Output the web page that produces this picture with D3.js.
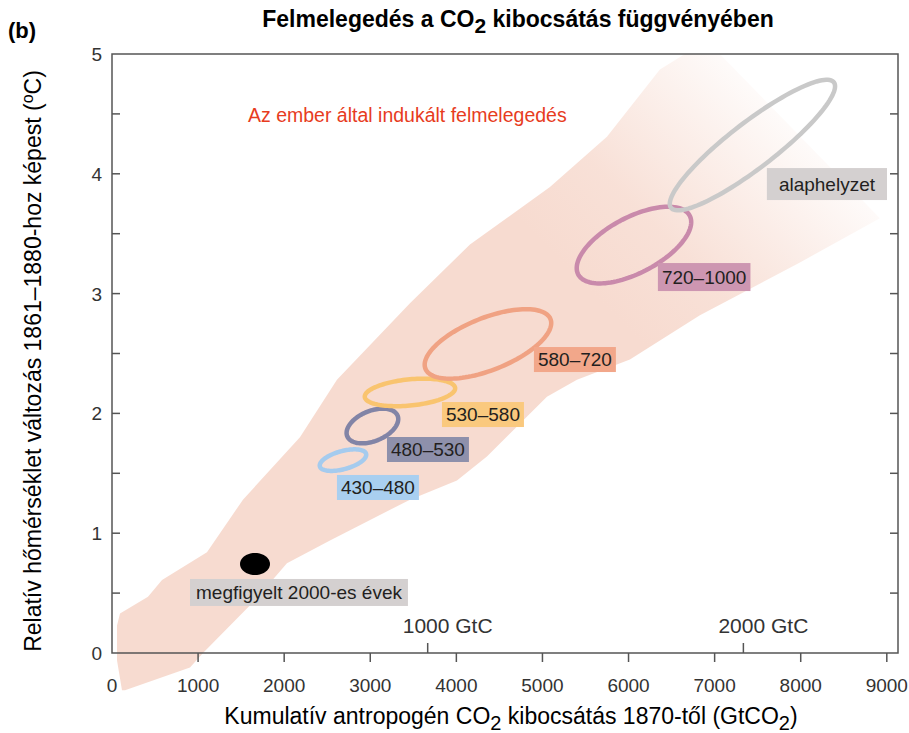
<!DOCTYPE html>
<meta charset="utf-8">
<style>
  body { margin: 0; background: #fff; }
  svg { font-family: "Liberation Sans", Arial, sans-serif; }
  .tick-label { font-size: 19px; fill: #333; }
  .box-label { fill: #231f20; }
</style>

<svg id="chart" width="909" height="733"></svg>

<script src="https://cdn.jsdelivr.net/npm/d3@7/dist/d3.min.js"></script>
<script>

// ----------------------------------------------------------------------------
//                               DATA
// ----------------------------------------------------------------------------
var xTicks = [0, 1000, 2000, 3000, 4000, 5000, 6000, 7000, 8000, 9000];
var yTicks = [0, 1, 2, 3, 4, 5];
var yMinor = [0.5, 1, 1.5, 2, 2.5, 3, 3.5, 4, 4.5];
var gtcMarks = [1000, 2000];          // GtC, 1 GtC = 3.667 GtCO2

// Range of model results (upper edge left to right, lower edge right to left)
var bandTop = [[116, -0.31], [58, -0.06], [58, 0.23], [93, 0.33], [418, 0.47],
               [581, 0.61], [1103, 0.84], [1521, 1.28], [2183, 1.80],
               [2613, 2.28], [3461, 2.92], [4158, 3.41], [5087, 3.89],
               [5749, 4.31], [6364, 4.87], [6655, 5.0], [7061, 5.0]];
var bandBottom = [[8920, 3.63], [7991, 3.26], [6829, 2.82], [6016, 2.45],
                  [5401, 2.28], [5052, 2.14], [4355, 1.64], [4007, 1.44],
                  [3461, 1.28], [2532, 0.94], [2032, 0.75], [1661, 0.44],
                  [1057, 0.0], [906, -0.12], [151, -0.31]];

// Scenario ellipses: centre, half spread in x and y, correlation
var scenarios = ["430–480", "480–530", "530–580", "580–720", "720–1000", "alaphelyzet"];
var scenX   = [2683, 3025, 3461, 4367, 6063, 7439];
var scenY   = [1.61, 1.895, 2.175, 2.58, 3.405, 4.24];
var scenDX  = [270, 300, 525, 735, 665, 960];
var scenDY  = [0.09, 0.145, 0.115, 0.29, 0.32, 0.545];
var scenRho = [0.5, 0.4, 0.3, 0.6, 0.6, 0.9];
var scenLabelX = [2613, 3194, 3833, 4901, 6341, 7607];
var scenLabelY = [1.486, 1.803, 2.095, 2.554, 3.255, 4.048];
var scenStroke = ["#a5cbee", "#8284a6", "#f9c46f", "#f0a283", "#c98aab", "#c9c9c9"];
var scenFill   = ["#a9cff0", "#8e90ab", "#fac97e", "#f2a78a", "#cd96b1", "#d4d0d0"];

// Observed 2000s
var obsName = "megfigyelt 2000-es évek";
var obsX = 1661, obsY = 0.743, obsDX = 174, obsDY = 0.092;
var obsLabelX = 906, obsLabelY = 0.618;

// ----------------------------------------------------------------------------
//                               CHART
// ----------------------------------------------------------------------------
var svg = d3.select("#chart");
var margin = {left: 112, top: 54, right: 11, bottom: 80};
var W = +svg.attr("width"), H = +svg.attr("height");

var x = d3.scaleLinear().domain([0, 9130]).range([margin.left, W - margin.right]);
var y = d3.scaleLinear().domain([0, 5]).range([H - margin.bottom, margin.top]);

var line = d3.line()
    .x(function(d) { return x(d[0]); })
    .y(function(d) { return y(d[1]); })
    .curve(d3.curveLinearClosed);

// ellipse in data space
function ellipse(cx, cy, dx, dy, rho) {
  var pts = [];
  for (var i = 0; i < 120; i++) {
    var t = i / 120 * 2 * Math.PI;
    pts.push([cx + dx * Math.cos(t),
              cy + dy * (rho * Math.cos(t) + Math.sqrt(1 - rho * rho) * Math.sin(t))]);
  }
  return pts;
}

// Fading band
var defs = svg.append("defs");
var grad = defs.append("linearGradient")
    .attr("id", "fade")
    .attr("gradientUnits", "userSpaceOnUse")
    .attr("x1", x(5650)).attr("y1", y(2.95))
    .attr("x2", x(7820)).attr("y2", y(4.5));
grad.append("stop").attr("offset", 0).attr("stop-color", "#f7dbd0").attr("stop-opacity", 1);
grad.append("stop").attr("offset", 0.35).attr("stop-color", "#f7dbd0").attr("stop-opacity", 0.85);
grad.append("stop").attr("offset", 1).attr("stop-color", "#f7dbd0").attr("stop-opacity", 0.1);

svg.append("path")
    .attr("d", line(bandTop.concat(bandBottom)))
    .attr("fill", "url(#fade)");

// Frame
svg.append("rect")
    .attr("x", x(0)).attr("y", y(5))
    .attr("width", x.range()[1] - x(0)).attr("height", y(0) - y(5))
    .attr("fill", "none").attr("stroke", "#555").attr("stroke-width", 1.5);

// y ticks, inside on both sides
var tickG = svg.append("g").attr("stroke", "#555").attr("stroke-width", 1.5);
tickG.selectAll(".yl").data(yMinor).enter().append("line")
    .attr("x1", x(0)).attr("x2", x(0) + 8)
    .attr("y1", function(d) { return y(d); }).attr("y2", function(d) { return y(d); });
tickG.selectAll(".yr").data(yMinor).enter().append("line")
    .attr("x1", x.range()[1]).attr("x2", x.range()[1] - 8)
    .attr("y1", function(d) { return y(d); }).attr("y2", function(d) { return y(d); });
// x ticks, outside
tickG.selectAll(".xb").data(xTicks.slice(1)).enter().append("line")
    .attr("x1", function(d) { return x(d); }).attr("x2", function(d) { return x(d); })
    .attr("y1", y(0)).attr("y2", y(0) + 9);
// GtC ticks, inside
tickG.selectAll(".gtc").data(gtcMarks).enter().append("line")
    .attr("x1", function(d) { return x(d * 3.667); }).attr("x2", function(d) { return x(d * 3.667); })
    .attr("y1", y(0)).attr("y2", y(0) - 10);

svg.selectAll(".gtcl").data(gtcMarks).enter().append("text")
    .attr("x", function(d) { return x(d * 3.667) + 20; })
    .attr("y", y(0) - 20)
    .attr("text-anchor", "middle")
    .attr("font-size", 21).attr("fill", "#333")
    .text(function(d) { return d + " GtC"; });

svg.selectAll(".xt").data(xTicks).enter().append("text")
    .attr("class", "tick-label")
    .attr("x", function(d) { return x(d); })
    .attr("y", y(0) + 39)
    .attr("text-anchor", "middle")
    .text(function(d) { return d; });

svg.selectAll(".yt").data(yTicks).enter().append("text")
    .attr("class", "tick-label")
    .attr("x", x(0) - 10)
    .attr("y", function(d) { return y(d) + 7; })
    .attr("text-anchor", "end")
    .text(function(d) { return d; });

// Ellipses
svg.selectAll(".scen").data(scenarios).enter().append("path")
    .attr("d", function(d, i) {
      return line(ellipse(scenX[i], scenY[i], scenDX[i], scenDY[i], scenRho[i])); })
    .attr("fill", "none")
    .attr("stroke", function(d, i) { return scenStroke[i]; })
    .attr("stroke-width", 4.5);

svg.append("path")
    .attr("d", line(ellipse(obsX, obsY, obsDX, obsDY, 0)))
    .attr("fill", "#000");

// Labels with boxes
function boxLabel(name, lx, ly, fill, size, h, pad) {
  var g = svg.append("g").attr("transform", "translate(" + x(lx) + "," + y(ly) + ")");
  var r = g.append("rect").attr("fill", fill).attr("height", h);
  var t = g.append("text").attr("class", "box-label")
      .attr("x", pad).attr("y", h / 2 + size * 0.36)
      .attr("font-size", size).text(name);
  r.attr("width", t.node().getComputedTextLength() + 2 * pad);
}
scenarios.forEach(function(d, i) {
  if (i == 5) boxLabel(d, scenLabelX[i], scenLabelY[i], scenFill[i], 19, 32, 12);
  else boxLabel(d, scenLabelX[i], scenLabelY[i], scenFill[i], 19, i == 4 ? 28 : 25, 4);
});
boxLabel(obsName, obsLabelX, obsLabelY, "#d4d0d0", 19, 27, 6);

// Annotation
svg.append("text")
    .attr("x", 248).attr("y", 122)
    .attr("font-size", 19.5).attr("fill", "#e73c1e")
    .text("Az ember által indukált felmelegedés");

// Titles
var title = svg.append("text")
    .attr("x", 518).attr("y", 27)
    .attr("text-anchor", "middle")
    .attr("font-size", 23).attr("font-weight", "bold");
title.append("tspan").text("Felmelegedés a CO");
title.append("tspan").attr("dy", 6).attr("font-size", 21).text("2");
title.append("tspan").attr("dy", -6).text(" kibocsátás függvényében");

svg.append("text")
    .attr("x", 8).attr("y", 38)
    .attr("font-size", 22).attr("font-weight", "bold")
    .text("(b)");

var xt = svg.append("text")
    .attr("x", 511).attr("y", 724)
    .attr("text-anchor", "middle")
    .attr("font-size", 23);
xt.append("tspan").text("Kumulatív antropogén CO");
xt.append("tspan").attr("dy", 6).attr("font-size", 20).text("2");
xt.append("tspan").attr("dy", -6).text(" kibocsátás 1870-től (GtCO");
xt.append("tspan").attr("dy", 6).attr("font-size", 20).text("2");
xt.append("tspan").attr("dy", -6).text(")");

var yt = svg.append("text")
    .attr("transform", "translate(41,361) rotate(-90)")
    .attr("text-anchor", "middle")
    .attr("font-size", 23);
yt.append("tspan").text("Relatív hőmérséklet változás 1861–1880-hoz képest (");
yt.append("tspan").attr("dy", -8).attr("font-size", 16).text("o");
yt.append("tspan").attr("dy", 8).text("C)");

</script>
